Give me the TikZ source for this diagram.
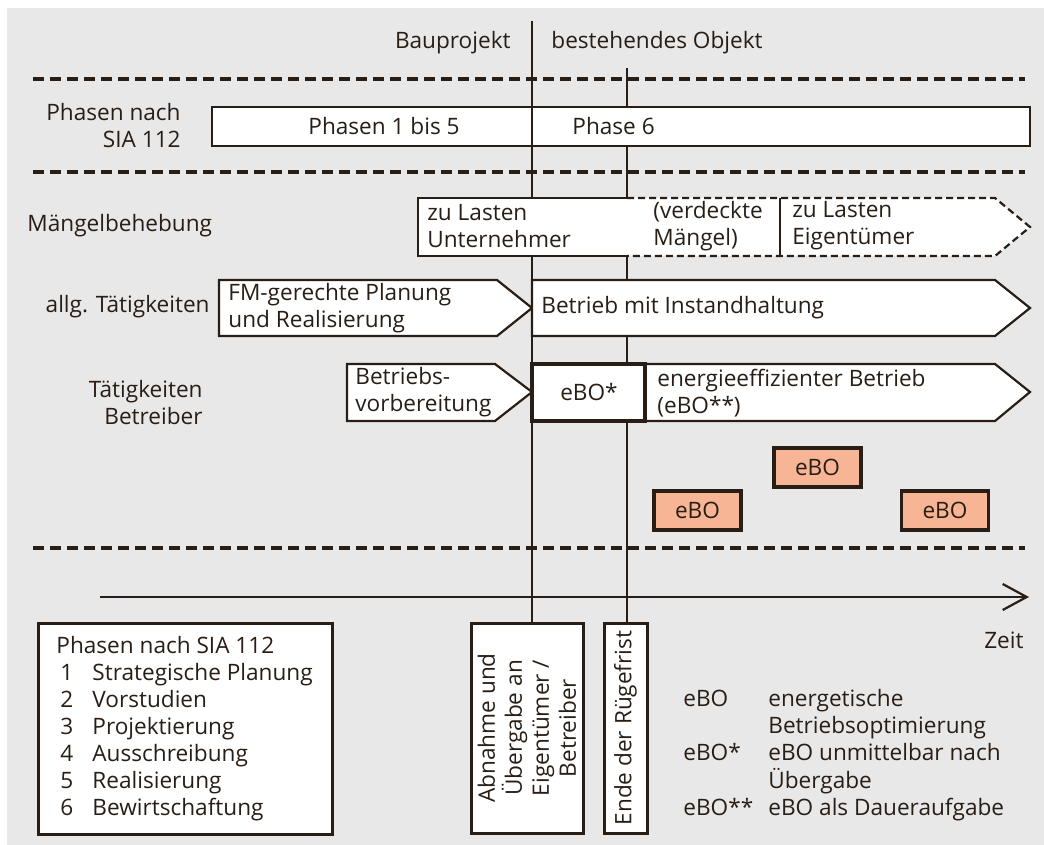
\documentclass[tikz,border=0pt]{standalone}
\usepackage{fontspec}
\setmainfont{Open Sans}
\usetikzlibrary{positioning, arrows.meta}
\definecolor{ink}{RGB}{40,30,22}
\definecolor{bggray}{RGB}{232,232,232}
\definecolor{salmon}{RGB}{247,181,149}

\begin{document}
\begin{tikzpicture}[x=0.5pt, y=-0.5pt,
    every node/.style={inner sep=0pt, text=ink, font=\fontsize{11.3}{13.5}\selectfont},
    txt/.style={anchor=west, align=left},
    sepline/.style={draw=ink, line width=2pt, dash pattern=on 5.5pt off 3pt},
    boxline/.style={draw=ink, fill=white, line width=1.1pt},
    legbox/.style={draw=ink, fill=white, line width=1.5pt},
    ebobox/.style={draw=ink, fill=salmon, line width=1.8pt, minimum width=43.5pt, minimum height=19.5pt},
    timeline/.style={draw=ink, line width=1.1pt}
  ]
  \fill[bggray] (7,8) rectangle (1044,845);
  \useasboundingbox (0,0) rectangle (1044,845);

  % bottom boxes first, the time lines end on them
  \node[legbox, minimum width=56pt, minimum height=105pt] (abn) at (527,728) {};
  \node[rotate=90, align=center] (abntxt) at (abn.center) {Abnahme und\\Übergabe an\\Eigentümer /\\Betreiber};
  \node[legbox, minimum width=21.5pt, minimum height=105pt] (ende) at (625.5,728) {};
  \node[rotate=90] (endetxt) at (ende.center) {Ende der Rügefrist};

  \coordinate (topA) at (532,21);
  \coordinate (topB) at (627,68);
  \draw[timeline] (topA) -- (topA |- abn.north);
  \draw[timeline] (topB) -- (topB |- ende.north);

  \node[anchor=east] (bau) at (511,43) {Bauprojekt};
  \node[anchor=west] (best) at (551,43) {bestehendes Objekt};

  \draw[sepline] (33,79) -- (1025,79);
  \draw[sepline] (33,172) -- (1025,172);
  \draw[sepline] (33,548) -- (1025,548);

  % Phasen
  \node[anchor=east, align=right] (phlbl) at (181,126) {Phasen nach\\SIA 112};
  \draw[boxline] (212,107) rectangle (1030,146);
  \draw[timeline] (532,107) -- (532,146);
  \node (ph15) at (384,126) {Phasen 1 bis 5};
  \node[txt] (ph6) at (572,126) {Phase 6};

  % Maengel
  \node[txt] (mlbl) at (27,226) {Mängelbehebung};
  \fill[white] (418,198) -- (995,198) -- (1030,227) -- (995,256) -- (418,256) -- cycle;
  \draw[ink, line width=1.1pt, dash pattern=on 3.5pt off 2pt] (627,198) -- (995,198) -- (1030,227) -- (995,256) -- (627,256);
  \draw[ink, line width=1.1pt] (627,198) -- (418,198) -- (418,256) -- (627,256);
  \draw[ink, line width=1.1pt] (780,198) -- (780,256);
  \node[txt] (unt) at (427,226) {zu Lasten\\Unternehmer};
  \node[txt] (verd) at (653,226) {(verdeckte\\Mängel)};
  \node[txt] (eig) at (792,226) {zu Lasten\\Eigentümer};

  % allg. Taetigkeiten
  \node[anchor=east] (albl) at (210,307) {allg. Tätigkeiten};
  \draw[boxline] (219,280) -- (497,280) -- (532,308) -- (497,336) -- (219,336) -- cycle;
  \node[txt] (fm) at (228,308) {FM-gerechte Planung\\und Realisierung};
  \draw[boxline] (532,280) -- (995,280) -- (1030,308) -- (995,336) -- (532,336) -- cycle;
  \node[txt] (betr) at (541,308) {Betrieb mit Instandhaltung};

  % Taetigkeiten Betreiber
  \node[anchor=east, align=right] (tlbl) at (203,403) {Tätigkeiten\\Betreiber};
  \draw[boxline] (347,364) -- (495,364) -- (532,392) -- (495,421) -- (347,421) -- cycle;
  \node[txt] (vorb) at (355,392) {Betriebs-\\vorbereitung};
  \draw[boxline] (645,364) -- (995,364) -- (1030,392) -- (995,421) -- (645,421) -- cycle;
  \draw[ink, fill=white, line width=1.8pt] (532,364) rectangle (645,421);
  \node (ebostar) at (589,392) {eBO*};
  \node[txt] (eeff) at (657,393) {energieeffizienter Betrieb\\(eBO**)};

  \node[ebobox] (ebo1) at (697.5,510.5) {eBO};
  \node[ebobox] (ebo2) at (817.5,467.5) {eBO};
  \node[ebobox] (ebo3) at (945,510.5) {eBO};

  % Zeitachse
  \coordinate (t0) at (100,597);
  \coordinate (t1) at (1029,597);
  \draw[timeline, -{Straight Barb[length=12pt,width=13pt]}] (t0) -- (t1);
  \node[anchor=east] (zeit) at (1024,640) {Zeit};

  % Legenden
  \draw[legbox] (38,623) rectangle (332,834);
  \node[anchor=north west] (legende) at (56,634) {%
    \begin{tabular}{@{\hspace{2pt}}p{16pt}@{}l@{}}
      \multicolumn{2}{@{}l@{}}{Phasen nach SIA 112}\\
      1 & Strategische Planung\\
      2 & Vorstudien\\
      3 & Projektierung\\
      4 & Ausschreibung\\
      5 & Realisierung\\
      6 & Bewirtschaftung
    \end{tabular}};
  \node[anchor=north west] (ebolegende) at (683,687) {%
    \begin{tabular}{@{}p{42.5pt}@{}l@{}}
      eBO & energetische\\
          & Betriebsoptimierung\\
      eBO* & eBO unmittelbar nach\\
           & Übergabe\\
      eBO** & eBO als Daueraufgabe
    \end{tabular}};
\end{tikzpicture}
\end{document}
